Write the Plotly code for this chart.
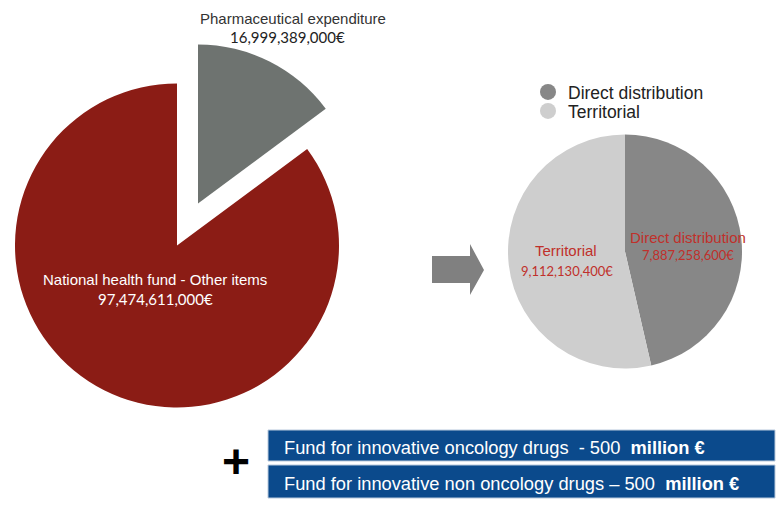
import plotly.graph_objects as go

# ---------------- data ----------------
budget_labels = ["Pharmaceutical expenditure", "National health fund - Other items"]
budget_values = [16999389000, 97474611000]

pharma_labels = ["Direct distribution", "Territorial"]
pharma_values = [7887258600, 9112130400]

fund_labels = ["Fund for innovative oncology drugs  -", "Fund for innovative non oncology drugs \u2013"]
fund_amounts = [500, 500]
fund_unit = "million \u20ac"

# ---------------- styling ----------------
W, H = 783, 506
RED = "#8b1c15"
GREY_L = "#6e7370"
DARK = "#878787"
LIGHT = "#cecece"
LABEL_RED = "#c0302b"
BLUE = "#0b4a8c"
SANS = "Liberation Sans, Arial, sans-serif"
NUM = "Lato, Open Sans, sans-serif"
CLEAR = "rgba(0,0,0,0)"


def px(x):
    return x / W


def py(y):
    return 1 - y / H


def dom(cx, cy, r):
    return dict(x=[px(cx - r), px(cx + r)], y=[py(cy + r), py(cy - r)])


def eur(v):
    return f"{v:,}\u20ac"


fig = go.Figure()

# left pie: base (other items) slice
fig.add_trace(go.Pie(
    labels=budget_labels, values=budget_values, sort=False,
    direction="clockwise", rotation=0, textinfo="none", hoverinfo="label+value",
    marker=dict(colors=[CLEAR, RED], line=dict(width=0)),
    domain=dom(177, 245.5, 162), showlegend=False,
))
# left pie: exploded pharmaceutical slice
fig.add_trace(go.Pie(
    labels=budget_labels, values=budget_values, sort=False,
    direction="clockwise", rotation=0, textinfo="none", hoverinfo="label+value",
    marker=dict(colors=[GREY_L, CLEAR], line=dict(width=0)),
    domain=dom(198, 203.5, 159), showlegend=False,
))
# right pie: split of pharmaceutical expenditure
fig.add_trace(go.Pie(
    labels=pharma_labels, values=pharma_values, sort=False,
    direction="clockwise", rotation=0, textinfo="none", hoverinfo="label+value",
    marker=dict(colors=[DARK, LIGHT], line=dict(width=0)),
    domain=dom(625, 251.5, 117), showlegend=False,
))

# legend entries (circles)
for i, (lab, col) in enumerate(zip(pharma_labels, [DARK, LIGHT])):
    fig.add_trace(go.Scatter(
        x=[None], y=[None], mode="markers", name=lab,
        marker=dict(size=17, color=col, symbol="circle"),
        legend="legend" if i == 0 else "legend2",
    ))

ann = []
# left labels
ann.append(dict(x=px(293), y=py(18), text=budget_labels[0],
                font=dict(family=SANS, size=15, color="#333333")))
ann.append(dict(x=px(287), y=py(36.5), text=eur(budget_values[0]),
                font=dict(family=NUM, size=15, color="#222222")))
ann.append(dict(x=px(155), y=py(279.5), text=budget_labels[1],
                font=dict(family=SANS, size=15, color="white")))
ann.append(dict(x=px(155), y=py(298.5), text=eur(budget_values[1]),
                font=dict(family=NUM, size=15, color="white")))
# right labels
ann.append(dict(x=px(688), y=py(237.5), text=pharma_labels[0],
                font=dict(family=SANS, size=15, color=LABEL_RED)))
ann.append(dict(x=px(688), y=py(254.5), text=eur(pharma_values[0]),
                font=dict(family=NUM, size=13, color=LABEL_RED)))
ann.append(dict(x=px(566), y=py(250.5), text=pharma_labels[1],
                font=dict(family=SANS, size=15, color=LABEL_RED)))
ann.append(dict(x=px(567), y=py(270.5), text=eur(pharma_values[1]),
                font=dict(family=NUM, size=13, color=LABEL_RED)))
# plus sign
ann.append(dict(x=px(236), y=py(461), text="<b>+</b>",
                font=dict(family=SANS, size=48, color="black")))
# fund boxes text
box_rows = [(430, 461), (465, 498)]
for (t, b), lab, amt in zip(box_rows, fund_labels, fund_amounts):
    ann.append(dict(x=px(282), y=py((t + b) / 2 + 2), xanchor="left",
                    text=f"{lab} {amt}  <b>{fund_unit}</b>",
                    font=dict(family=SANS, size=18.3, color="white")))

for a in ann:
    a.update(xref="paper", yref="paper", showarrow=False)
    a.setdefault("xanchor", "center")
    a.setdefault("yanchor", "middle")

shapes = []
# arrow
arrow = [(432, 256), (470, 256), (470, 244), (484, 270), (470, 295), (470, 283), (432, 283)]
path = "M " + " L ".join(f"{px(x):.5f},{py(y):.5f}" for x, y in arrow) + " Z"
shapes.append(dict(type="path", xref="paper", yref="paper", path=path,
                   fillcolor="#808080", line=dict(width=0)))
for t, b in box_rows:
    shapes.append(dict(type="rect", xref="paper", yref="paper",
                       x0=px(268), x1=px(775), y0=py(b), y1=py(t),
                       fillcolor=BLUE, line=dict(color="#b9c9dc", width=1)))

fig.update_layout(
    width=W, height=H, margin=dict(l=0, r=0, t=0, b=0),
    paper_bgcolor="white", plot_bgcolor="white",
    xaxis=dict(visible=False), yaxis=dict(visible=False),
    annotations=ann, shapes=shapes,
    legend=dict(x=px(528), y=py(74), xanchor="left", yanchor="top",
                bgcolor=CLEAR, font=dict(family=SANS, size=17.5, color="#222222")),
    legend2=dict(x=px(528), y=py(93), xanchor="left", yanchor="top",
                 bgcolor=CLEAR, font=dict(family=SANS, size=17.5, color="#222222")),
)

fig.write_html("out.html", config={"displayModeBar": False},
               post_script="document.body.style.margin='0px';")
